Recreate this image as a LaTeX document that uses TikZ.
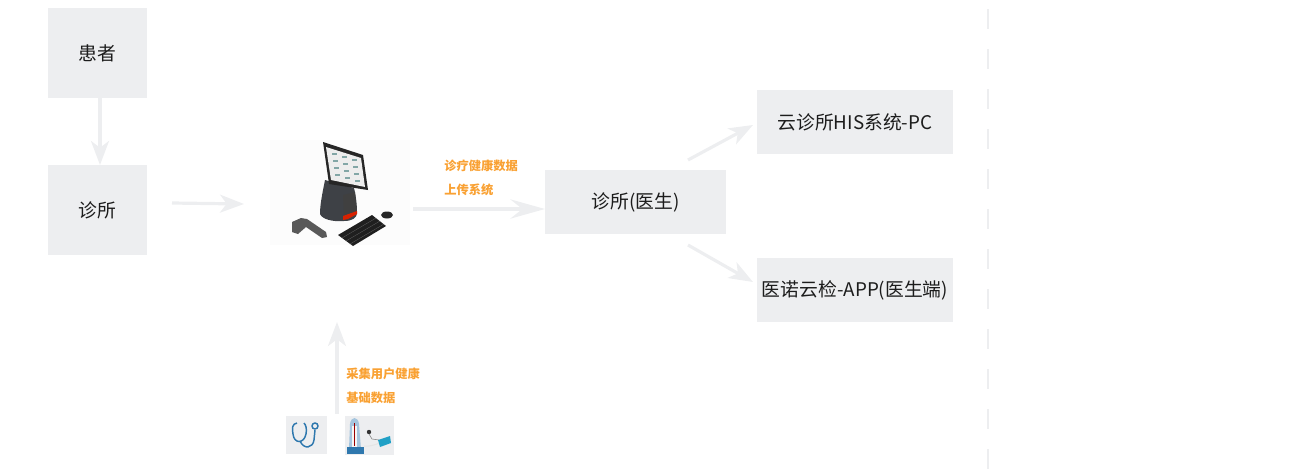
\documentclass[tikz,border=0pt]{standalone}
\usepackage{fontspec}
\usetikzlibrary{arrows.meta}
\newfontfamily\cjk{Noto Sans CJK SC}
\definecolor{boxgray}{HTML}{EDEEF0}
\definecolor{notetext}{HTML}{F9A133}
\definecolor{boxtext}{HTML}{1C1C1C}
\definecolor{iconblue}{HTML}{2F78AE}
\definecolor{standgray}{HTML}{3E4146}
\tikzset{
  stepbox/.style={fill=boxgray, inner sep=0pt, text=boxtext, font=\cjk\fontsize{14.1}{16}\selectfont},
  flow/.style={draw=boxgray, line width=2.4pt, -{Stealth[length=18pt, width=13.5pt, inset=5pt]}},
  longflow/.style={flow, -{Stealth[length=26pt, width=14.5pt, inset=9pt]}},
  note/.style={anchor=west, inner sep=0pt, text=notetext, font=\cjk\bfseries\fontsize{9.2}{10}\selectfont},
}
\begin{document}
\begin{tikzpicture}[x=0.75pt, y=-0.75pt]
  \useasboundingbox (0,0) rectangle (1300,472);

  %% boxes
  \node[stepbox, minimum width=74.25pt, minimum height=67.5pt] (patient) at (97.5,53) {患者};
  \node[stepbox, minimum width=74.25pt, minimum height=67.5pt] (clinic) at (97.5,210) {诊所};
  \node[stepbox, minimum width=135.75pt, minimum height=48pt] (doctor) at (635.5,202) {诊所(医生)};
  \node[stepbox, minimum width=147pt, minimum height=48pt] (his) at (855,122) {云诊所HIS系统-PC};
  \node[stepbox, minimum width=147pt, minimum height=48pt] (app) at (855,290) {医诺云检-APP(医生端)};

  %% terminal picture
  \node[fill=black!1, minimum width=105pt, minimum height=78.75pt, inner sep=0pt] (terminal) at (340,192.5) {};
  \fill[standgray] (325,180) .. controls (322,195) and (320,205) .. (320,214)
    .. controls (322,219) and (332,222) .. (344,221) .. controls (352,221) and (357,218) .. (357,213)
    .. controls (357,205) and (356,196) .. (354,188) -- cycle;
  \fill[black!75] (343,195) -- (355,192) -- (357,213) -- (344,218) -- cycle;
  \fill[red!70!orange!85!black] (343,216) -- (357,211) -- (357,214) -- (348,219) -- (343,220) -- cycle;
  \fill[black!85] (323,142) -- (363,155) -- (368,190) -- (329,184) -- cycle;
  \fill[black!7] (326,147) -- (361,158) -- (365,187) -- (331,180) -- cycle;
  \foreach \i in {0,1,2,3}
    \foreach \j in {0,1,2}
      \fill[teal!40!gray!70] ({332+\j*10+\i*1},{153+\i*7+\j*3}) rectangle +(5,2);
  \fill[black!65] (292,222) -- (301,218) -- (307,219) -- (326,232) -- (327,237) -- (322,238) -- (306,227) -- (298,234) -- (292,232) -- cycle;
  \fill[black!88] (338,235) -- (372,215) -- (386,226) -- (353,246) -- cycle;
  \foreach \i in {1,2,3}
    \draw[black!60, line width=0.2pt] ({338+\i*4},{235+\i*3}) -- ({372+\i*4},{215+\i*3});
  \fill[black!85] (387,215) ellipse (6 and 3.5);

  %% instruments
  \node[fill=boxgray, minimum width=30.75pt, minimum height=28.5pt, inner sep=0pt] (scope) at (306.5,435) {};
  \node[fill=boxgray, minimum width=36.75pt, minimum height=29.25pt, inner sep=0pt] (meter) at (369.5,435.5) {};
  \draw[iconblue, line width=1.1pt] (297,423) .. controls (292,424) and (292,428) .. (293,434)
    .. controls (294,444) and (304,444) .. (306,434) .. controls (307,429) and (306,425) .. (304,423);
  \draw[iconblue, line width=1.1pt] (300,441) .. controls (304,450) and (313,448) .. (314,440) -- (315,430);
  \draw[iconblue, line width=1.1pt] (315,426) circle (3);
  \fill[cyan!30!iconblue!45] (349,449) -- (350,424) .. controls (351,416) and (358,416) .. (359,424) -- (361,449) -- cycle;
  \fill[black!4] (352,426) rectangle (357,447);
  \draw[red!60!black, line width=0.6pt] (354.5,423) -- (354.5,446);
  \fill[iconblue] (347,447) rectangle (364,454);
  \draw[white!80!gray, line width=0.8pt] (364,446) .. controls (372,447) and (378,443) .. (384,442);
  \fill[black!80] (369,432) circle (2.2);
  \draw[black!50, line width=0.4pt] (369,434) -- (372,439) -- (379,440);
  \fill[iconblue!70!cyan] (378,440) -- (390,436) -- (391,443) -- (380,447) -- cycle;

  %% arrows
  \coordinate (patientout) at (100,98);
  \coordinate (clinicin) at (100,165);
  \coordinate (clinicout) at (172,203);
  \coordinate (terminalin) at (244,204);
  \coordinate (terminalout) at (413,209);
  \coordinate (doctorin) at (545,209);
  \coordinate (hisout) at (688,160);
  \coordinate (hisin) at (753,125);
  \coordinate (appout) at (688,245);
  \coordinate (appin) at (753,282);
  \coordinate (scopeout) at (337,414);
  \coordinate (terminalup) at (337,322);
  \draw[flow] (patientout) -- (clinicin);
  \draw[flow] (clinicout) -- (terminalin);
  \draw[longflow] (terminalout) -- (doctorin);
  \draw[flow] (hisout) -- (hisin);
  \draw[flow] (appout) -- (appin);
  \draw[flow] (scopeout) -- (terminalup);

  %% notes
  \node[note] (upload1) at (444,166) {诊疗健康数据};
  \node[note] (upload2) at (444,190) {上传系统};
  \node[note] (collect1) at (346,374) {采集用户健康};
  \node[note] (collect2) at (346,398) {基础数据};

  %% divider
  \coordinate (dividertop) at (988,9);
  \coordinate (dividerend) at (988,472);
  \draw[boxgray, line width=1.5pt, dash pattern=on 15pt off 15pt] (dividertop) -- (dividerend);
\end{tikzpicture}
\end{document}
